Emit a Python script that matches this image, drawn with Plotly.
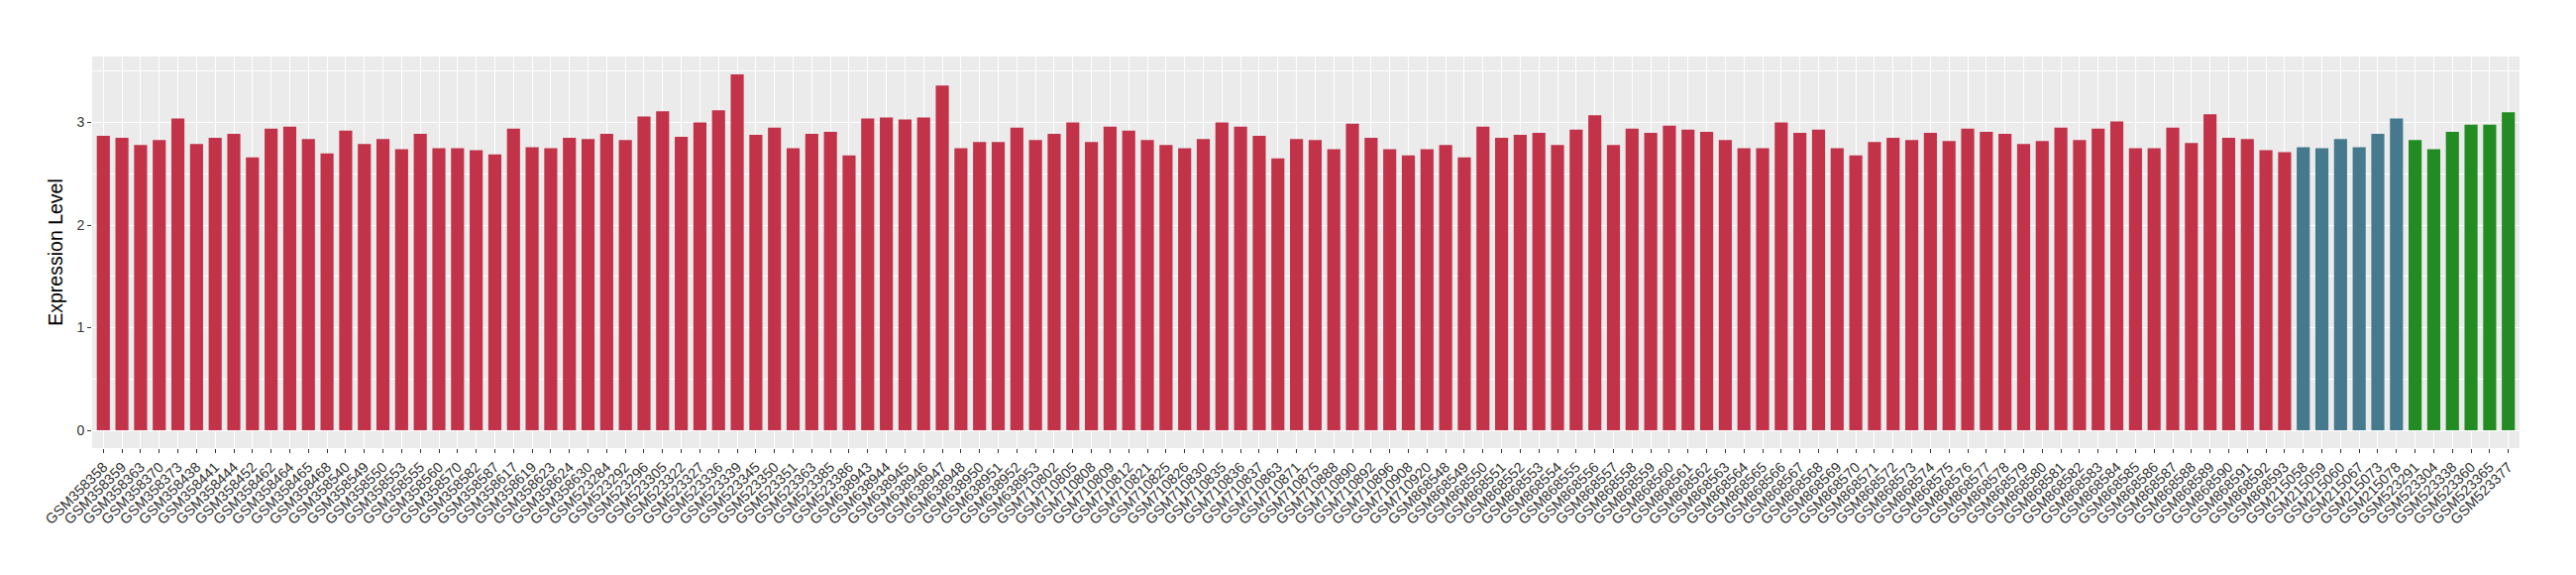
import plotly.graph_objects as go

samples = [
    "GSM358358", "GSM358359", "GSM358363", "GSM358370", "GSM358373", "GSM358438", "GSM358441", "GSM358444",
    "GSM358452", "GSM358462", "GSM358464", "GSM358465", "GSM358468", "GSM358540", "GSM358549", "GSM358550",
    "GSM358553", "GSM358555", "GSM358560", "GSM358570", "GSM358582", "GSM358587", "GSM358617", "GSM358619",
    "GSM358623", "GSM358624", "GSM358630",
    "GSM523284", "GSM523292", "GSM523296", "GSM523305", "GSM523322", "GSM523327", "GSM523336", "GSM523339",
    "GSM523345", "GSM523350", "GSM523351", "GSM523363", "GSM523385", "GSM523386",
    "GSM638943", "GSM638944", "GSM638945", "GSM638946", "GSM638947", "GSM638948", "GSM638950", "GSM638951",
    "GSM638952", "GSM638953",
    "GSM710802", "GSM710805", "GSM710808", "GSM710809", "GSM710812", "GSM710821", "GSM710825", "GSM710826",
    "GSM710830", "GSM710835", "GSM710836", "GSM710837", "GSM710863", "GSM710871", "GSM710875", "GSM710888",
    "GSM710890", "GSM710892", "GSM710896", "GSM710908", "GSM710920",
    "GSM868548", "GSM868549", "GSM868550", "GSM868551", "GSM868552", "GSM868553", "GSM868554", "GSM868555",
    "GSM868556", "GSM868557", "GSM868558", "GSM868559", "GSM868560", "GSM868561", "GSM868562", "GSM868563",
    "GSM868564", "GSM868565", "GSM868566", "GSM868567", "GSM868568", "GSM868569", "GSM868570", "GSM868571",
    "GSM868572", "GSM868573", "GSM868574", "GSM868575", "GSM868576", "GSM868577", "GSM868578", "GSM868579",
    "GSM868580", "GSM868581", "GSM868582", "GSM868583", "GSM868584", "GSM868585", "GSM868586", "GSM868587",
    "GSM868588", "GSM868589", "GSM868590", "GSM868591", "GSM868592", "GSM868593",
    "GSM215058", "GSM215059", "GSM215060", "GSM215067", "GSM215073", "GSM215078",
    "GSM523291", "GSM523304", "GSM523338", "GSM523360", "GSM523365", "GSM523377",
]

values = [
    2.87, 2.85, 2.78, 2.83, 3.04, 2.79, 2.85, 2.89, 2.66, 2.94, 2.96, 2.84, 2.70, 2.92, 2.79, 2.84,
    2.74, 2.89, 2.75, 2.75, 2.73, 2.69, 2.94, 2.76, 2.75, 2.85, 2.84,
    2.89, 2.83, 3.06, 3.11, 2.86, 3.00, 3.12, 3.47, 2.88, 2.95, 2.75, 2.89, 2.91, 2.68,
    3.04, 3.05, 3.03, 3.05, 3.36, 2.75, 2.81, 2.81, 2.95, 2.83,
    2.89, 3.00, 2.81, 2.96, 2.92, 2.83, 2.78, 2.75, 2.84, 3.00, 2.96, 2.87, 2.65, 2.84, 2.83, 2.74,
    2.99, 2.85, 2.74, 2.68, 2.74,
    2.78, 2.66, 2.96, 2.85, 2.88, 2.90, 2.78, 2.93, 3.07, 2.78, 2.94, 2.90, 2.97, 2.93, 2.91, 2.83,
    2.75, 2.75, 3.00, 2.90, 2.93, 2.75, 2.68, 2.81, 2.85, 2.83, 2.90, 2.82, 2.94, 2.91, 2.89, 2.79,
    2.82, 2.95, 2.83, 2.94, 3.01, 2.75, 2.75, 2.95, 2.80, 3.08, 2.85, 2.84, 2.73, 2.71,
    2.76, 2.75, 2.84, 2.76, 2.89, 3.04,
    2.83, 2.74, 2.91, 2.98, 2.98, 3.10,
]

groups = ["A"] * 118 + ["B"] * 6 + ["C"] * 6

group_colors = {"A": "#C2334A", "B": "#457A8E", "C": "#228B22"}

colors = [group_colors[g] for g in groups]

ymax = max(values)

fig = go.Figure(
    go.Bar(
        x=samples,
        y=values,
        marker=dict(color=colors, line=dict(width=0)),
        width=0.7,
        showlegend=False,
    )
)

family = "Liberation Sans, Arial, sans-serif"

fig.update_layout(
    width=2600,
    height=580,
    margin=dict(l=85, r=65, t=49, b=136, autoexpand=False),
    paper_bgcolor="white",
    plot_bgcolor="#EBEBEB",
    font=dict(family=family, color="black"),
    bargap=0.3,
)

fig.update_xaxes(
    type="category",
    categoryorder="array",
    categoryarray=samples,
    range=[-0.6, len(samples) - 1 + 0.6],
    tickmode="linear",
    tick0=0,
    dtick=1,
    tickangle=-45,
    tickfont=dict(family=family, size=14.5, color="#333333"),
    ticks="outside",
    ticklen=4,
    tickwidth=1,
    tickcolor="#333333",
    showgrid=True,
    gridcolor="white",
    gridwidth=1.4,
    showline=False,
    zeroline=False,
    automargin=False,
)

fig.update_yaxes(
    range=[-0.05 * ymax, ymax * 1.05],
    tickvals=[0, 1, 2, 3],
    ticktext=["0", "1", "2", "3"],
    tickfont=dict(family=family, size=14, color="#333333"),
    ticks="outside",
    ticklen=4,
    tickwidth=1,
    tickcolor="#333333",
    showgrid=True,
    gridcolor="white",
    gridwidth=1.4,
    minor=dict(dtick=0.5, tick0=0.5, showgrid=True, gridcolor="white", gridwidth=0.7, ticks=""),
    zeroline=False,
    showline=False,
    title=dict(text="Expression Level", font=dict(size=19.5, color="black"), standoff=8),
    automargin=False,
)

fig.write_html("out.html")
